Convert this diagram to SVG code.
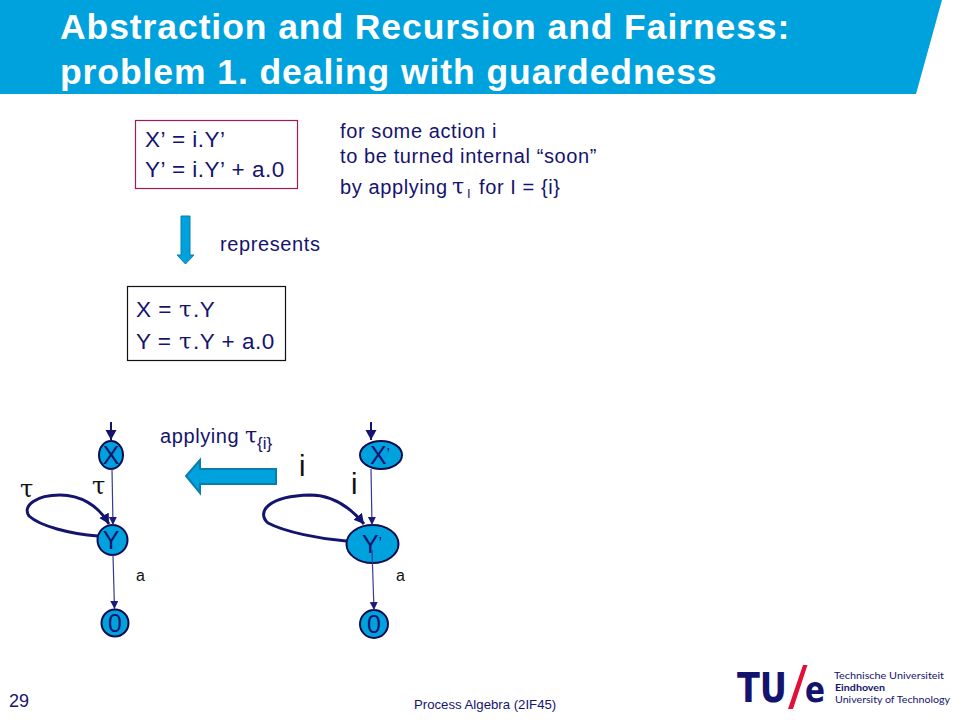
<svg xmlns="http://www.w3.org/2000/svg" width="960" height="720" viewBox="0 0 960 720">
<defs>
<marker id="ah" markerWidth="10" markerHeight="10" refX="8" refY="4" orient="auto" markerUnits="userSpaceOnUse"><path d="M0,0 L8,4 L0,8 Z" fill="#1a1a7a"/></marker>
<marker id="ahb" markerWidth="14" markerHeight="14" refX="10" refY="5.500" orient="auto" markerUnits="userSpaceOnUse"><path d="M0,0 L10,5.500 L0,11 Z" fill="#14146e"/></marker>
</defs>
<style>
text{font-family:"Liberation Sans",Arial,sans-serif;fill:#14146e}
.title{font-size:35.500px;font-weight:bold;fill:#fff;letter-spacing:.92px}
.eq{font-size:22.500px;letter-spacing:.5px}
.body{font-size:20px;letter-spacing:.6px}
.tau{font-family:"DejaVu Serif","Liberation Serif",serif}
.k{fill:#111}
.node{fill:#00a2de;stroke:#0c0c50;stroke-width:2}
.nl{font-size:25px;text-anchor:middle;fill:#14146e}
.pr{font-size:16px}
.thin{fill:none;stroke:#3a3a90;stroke-width:1.200;marker-end:url(#ah)}
.thick{fill:none;stroke:#14146e;stroke-width:3;marker-end:url(#ahb)}
.entry{fill:none;stroke:#14146e;stroke-width:2;marker-end:url(#ahb)}
.logo{font-family:"DejaVu Sans",sans-serif;font-weight:bold}
.lt{font-family:Lato,sans-serif;font-size:9.500px}
</style>
<polygon points="0,0 942,0 916,94 0,94" fill="#00a2de"/>
<text class="title" x="60" y="39">Abstraction and Recursion and Fairness:</text>
<text class="title" x="60" y="84">problem 1. dealing with guardedness</text>

<g id="eq-top">
<rect x="135.500" y="120.500" width="162" height="68" fill="#fff" stroke="#a01a5a" stroke-width="1.200"/>
<text class="eq" x="145" y="147">X’ = i.Y’</text>
<text class="eq" x="145" y="177">Y’ = i.Y’ + a.0</text>
</g>
<g id="note">
<text class="body" x="340" y="138">for some action i</text>
<text class="body" x="340" y="163">to be turned internal “soon”</text>
<text class="body" x="340" y="194">by applying</text>
<text class="tau" font-size="22" x="452" y="194">τ</text>
<text font-size="13" x="467" y="198">I</text>
<text class="body" x="479" y="194">for I = {i}</text>
</g>
<g id="represents-arrow">
<polygon points="181,216 190,216 190,255 194,255 185.500,264 177,255 181,255" fill="#00a2de" stroke="#0a7eaa" stroke-width="1"/>
<text class="body" x="220" y="251">represents</text>
</g>
<g id="eq-bottom">
<rect x="127.500" y="286.500" width="158" height="74" fill="#fff" stroke="#111" stroke-width="1.200"/>
<text class="eq" x="136" y="317">X =</text>
<text class="tau eq" x="179" y="317">τ</text>
<text class="eq" x="193" y="317">.Y</text>
<text class="eq" x="136" y="349">Y =</text>
<text class="tau eq" x="179" y="349">τ</text>
<text class="eq" x="193" y="349">.Y + a.0</text>
</g>
<g id="applying-arrow">
<text class="body" x="160" y="443">applying</text>
<text class="tau" font-size="22" x="245" y="443">τ</text>
<text font-size="17" x="257" y="449">{i}</text>
<polygon points="276,469 276,484 200,484 200,493 186,476 200,460 200,469" fill="#00a2de" stroke="#0a7eaa" stroke-width="2"/>
</g>

<g id="node-X"><ellipse class="node" cx="111" cy="455" rx="12" ry="14"/><text class="nl" x="111" y="464">X</text></g>
<g id="node-Y"><circle class="node" cx="112.500" cy="540" r="15"/><text class="nl" x="111" y="549">Y</text></g>
<g id="node-0"><circle class="node" cx="115" cy="623" r="13.500"/><text class="nl" x="115" y="632">0</text></g>
<g id="node-Xp"><ellipse class="node" cx="381" cy="455" rx="21" ry="14"/><text class="nl" x="380" y="464">X<tspan class="pr" dy="-4">’</tspan></text></g>
<g id="node-Yp"><ellipse class="node" cx="372.500" cy="544" rx="26" ry="19"/><text class="nl" x="372" y="553">Y<tspan class="pr" dy="-4">’</tspan></text></g>
<g id="node-0p"><circle class="node" cx="374" cy="624" r="14"/><text class="nl" x="374" y="633">0</text></g>

<g id="connectors">
<path class="entry" d="M111,422 L111,440"/>
<path class="thin" d="M112,469 L113,525"/>
<path class="thin" d="M113,555 L114.500,609"/>
<path class="thick" d="M98,536 C70,534 40,526 29,516 C22,506 36,495 60,495 C80,495 98,505 109,524"/>
<path class="entry" d="M371,422 L371,440"/>
<path class="thin" d="M371,469 L372,525"/>
<path class="thin" d="M372,550 L374,610"/>
<path class="thick" d="M346,541 C320,539 285,532 268,523 C256,512 268,496 310,495 C332,495 350,507 364,524"/>
</g>

<g id="edge-labels">
<text class="tau k" font-size="24" x="20" y="497">τ</text>
<text class="tau k" font-size="24" x="92" y="494">τ</text>
<text class="k" font-size="16" x="136" y="581">a</text>
<text class="k" font-size="16" x="396" y="581">a</text>
<text class="k" font-size="29" x="299" y="476">i</text>
<text class="k" font-size="29" x="351" y="494">i</text>
</g>

<g id="footer">
<text font-size="18" x="9" y="707">29</text>
<text font-size="13.200" x="414" y="709">Process Algebra (2IF45)</text>
</g>
<g id="logo">
<text class="logo" x="737" y="702" font-size="40" textLength="50" lengthAdjust="spacingAndGlyphs">TU</text>
<polygon points="803,665 807.500,665 793,709 788,709" fill="#e0103a"/>
<text class="logo" x="805" y="702" font-size="36" textLength="20" lengthAdjust="spacingAndGlyphs">e</text>
<text class="lt" x="834" y="679" textLength="110" lengthAdjust="spacingAndGlyphs">Technische Universiteit</text>
<text class="lt" x="835" y="691" font-weight="bold" textLength="50" lengthAdjust="spacingAndGlyphs">Eindhoven</text>
<text class="lt" x="835" y="703" textLength="115" lengthAdjust="spacingAndGlyphs">University of Technology</text>
</g>
</svg>
